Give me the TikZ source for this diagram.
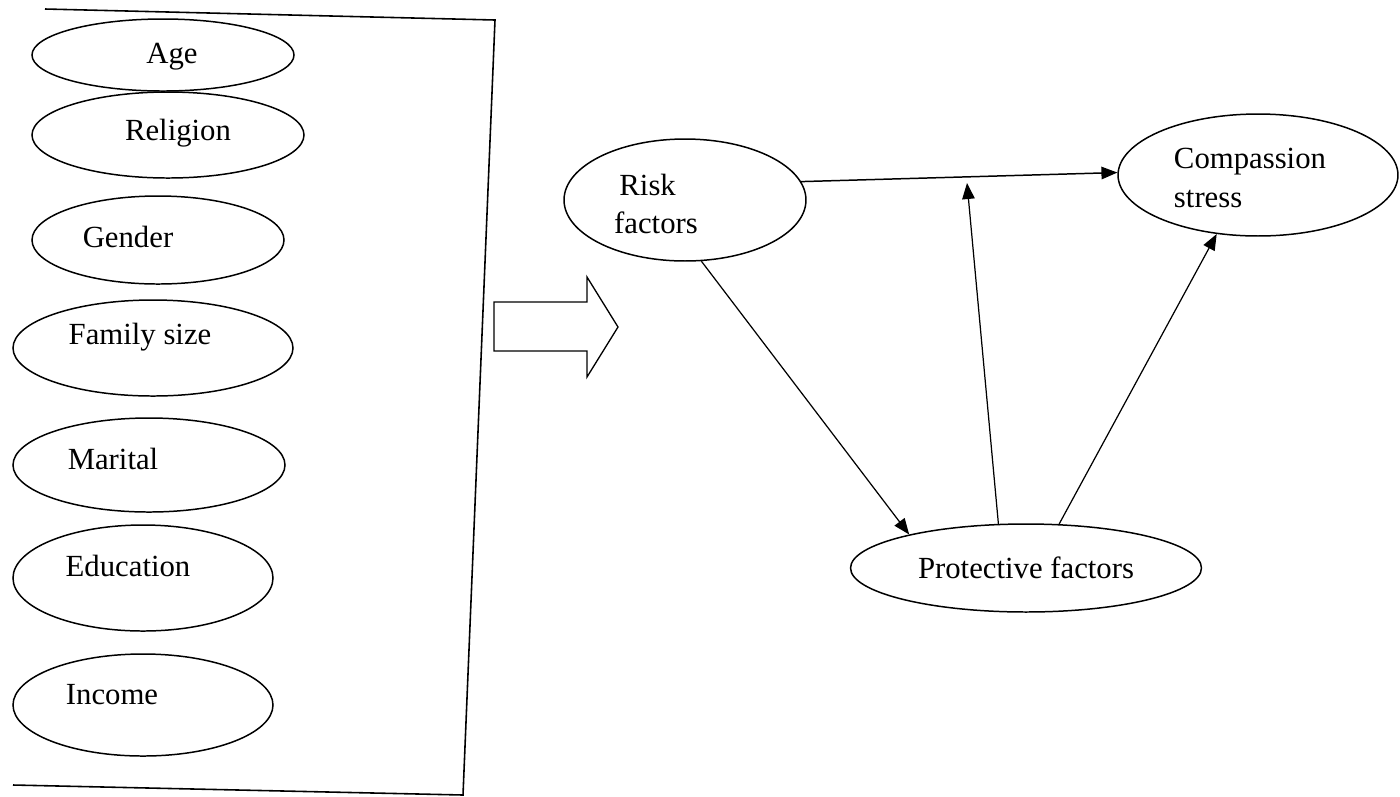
\documentclass[tikz,border=0pt]{standalone}
\usepackage{fontspec}
\setmainfont{Liberation Serif}
\usetikzlibrary{shapes.geometric,arrows.meta}

\begin{document}
\begin{tikzpicture}[
    x=0.02cm,y=-0.02cm,
    every node/.style={font=\fontsize{17.5}{22}\selectfont},
    oval/.style={draw,ellipse,line width=0.85pt,inner sep=0pt},
    lbl/.style={inner sep=0pt,align=left},
    link/.style={line width=0.7pt,-{Triangle[length=0.32cm,width=0.25cm]}}
  ]
  \useasboundingbox (0,0) rectangle (1400,796);
  % background variables
  \foreach \n/\cx/\cy/\w/\h/\tx/\ty/\t in {
    age/163/55/262/72/172/57/Age,
    rel/168/135/272/86/178/133/Religion,
    gen/158/240/252/88/128/237/Gender,
    fam/153/348/280/96/140/337/{Family size},
    mar/149/465/272/94/113/459/Marital,
    edu/143/578/260/106/128/566/Education,
    inc/143/705/260/102/112/695/Income}{
    \node[oval,minimum width=\w*0.02cm,minimum height=\h*0.02cm] (\n) at (\cx,\cy) {};
    \node[lbl] (\n-t) at (\tx,\ty) {\t};}
  % frame and block arrow
  \draw[line width=0.9pt] (45,9) -- (495,20) -- (463,795) -- (13,785);
  \draw[line width=0.75pt] (494,302) -- (587,302) -- (587,277) -- (618,327)
    -- (587,377) -- (587,351) -- (494,351) -- cycle;
  % model
  \node[oval,minimum width=4.84cm,minimum height=2.44cm] (risk) at (685,200) {};
  \node[lbl] (risk-t) at (656,204) {\hspace{3pt}Risk\\factors};
  \node[oval,minimum width=5.6cm,minimum height=2.44cm] (comp) at (1258,175) {};
  \node[lbl] (comp-t) at (1250,178) {Compassion\\stress};
  \node[oval,minimum width=7.02cm,minimum height=1.76cm] (prot) at (1026,568) {Protective factors};
  \coordinate (meet) at (967,183);
  \draw[link,line width=0.85pt] (risk.9) -- (comp.179);
  \draw[link] (risk.-75) -- (prot.164);
  \draw[link] (prot.122) -- (meet);
  \draw[link] (prot.53) -- (comp.-125);
\end{tikzpicture}
\end{document}
